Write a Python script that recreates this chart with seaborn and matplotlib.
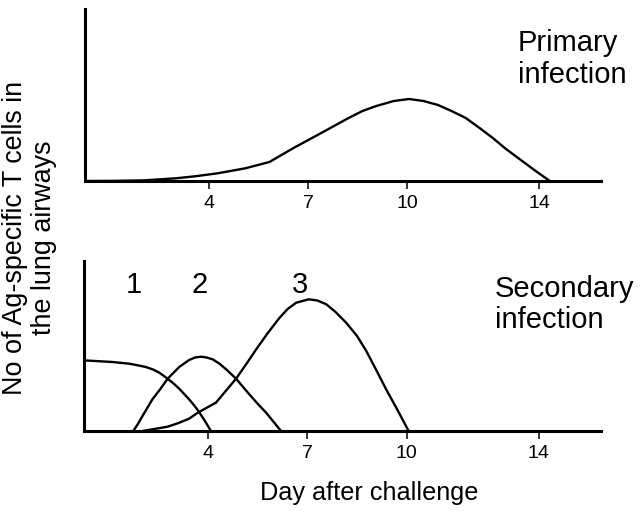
import pandas as pd
import numpy as np
import matplotlib
matplotlib.use("Agg")
import matplotlib.pyplot as plt
import seaborn as sns

"""values read off the figure (day after challenge, relative cell number)"""
tick_days = [4, 7, 10, 14]

primary_day = [0.24, 1.0, 2.0, 3.0, 3.6, 4.26, 5.1, 5.83, 6.56, 7.4, 8.23, 8.65, 9.07, 9.6, 10.06,
               10.5, 10.94, 11.35, 11.78, 12.2, 12.6, 13.0, 13.45, 13.9, 14.33]
primary_val = [0, 0.1, 0.6, 2.7, 4.8, 7.7, 12.7, 19, 33, 48, 63, 70, 75, 80, 82,
               80, 76, 70, 63, 53, 43, 32, 21, 10, 0]

sec1_day = [0.21, 1.10, 1.61, 1.85, 2.11, 2.33, 2.52, 2.77, 2.95, 3.12, 3.27, 3.42, 3.55, 3.68, 3.88, 3.98, 4.08]
sec1_val = [70.7, 69, 67.3, 65.8, 64, 61.5, 58.3, 52.3, 47.5, 42.3, 37, 31.7, 26.5, 21, 11, 5.5, 0]

sec2_day = [1.73, 1.87, 2.01, 2.31, 2.55, 2.77, 3.12, 3.42, 3.6, 3.78, 3.95, 4.13, 4.33, 4.54, 4.84, 5.24, 5.5, 5.75, 6.2]
sec2_val = [0, 7, 15, 31.7, 42, 52.3, 64, 71, 73.5, 74.3, 73.5, 71.7, 67.5, 61.7, 52.3, 36.7, 27, 18.3, 0]

sec3_day = [2.01, 2.77, 3.1, 3.42, 3.68, 4.23, 4.84, 5.15, 5.45, 5.8, 6.15, 6.4, 6.66, 7.04, 7.3,
            7.57, 7.85, 8.17, 8.5, 8.78, 9.08, 9.38, 9.74, 10.06]
sec3_val = [0, 4.3, 8, 12.3, 18.3, 28.3, 52.3, 67, 81.7, 98, 113, 122, 128.3, 131.7, 130.5,
            126.7, 119, 108.3, 95, 80, 61, 41.7, 20, 0]

curve_labels = ["1", "2", "3"]
label_day = [1.76, 3.75, 6.76]
label_val = [146, 146, 146]

sns.set_theme(style="white")
plt.rcParams["font.family"] = ["Liberation Sans", "DejaVu Sans"]
plt.rcParams["text.color"] = "black"

fig = plt.figure(figsize=(6.4, 5.21), dpi=100)
W, H = 640, 521
ax_top = fig.add_axes([85 / W, 1 - 181 / H, 516 / W, 172 / H])
ax_bot = fig.add_axes([84 / W, 1 - 431 / H, 517 / W, 170 / H])

primary = pd.DataFrame({"day": primary_day, "cells": primary_val})
sns.lineplot(data=primary, x="day", y="cells", color="black", linewidth=1.7,
             estimator=None, ax=ax_top)

secondary = pd.concat([
    pd.DataFrame({"day": d, "cells": v, "curve": c})
    for d, v, c in zip([sec1_day, sec2_day, sec3_day], [sec1_val, sec2_val, sec3_val], curve_labels)
])
for c in curve_labels:
    sns.lineplot(data=secondary[secondary.curve == c], x="day", y="cells", color="black",
                 linewidth=1.7, estimator=None, ax=ax_bot)

for c, d, v in zip(curve_labels, label_day, label_val):
    ax_bot.text(d, v, c, fontsize=21, ha="center", va="center", color="black")

for ax, top in [(ax_top, 172), (ax_bot, 170)]:
    ax.set_xlim(0.24, 15.88)
    ax.set_ylim(0, top)
    ax.set_xticks(tick_days)
    ax.set_xticklabels([str(t) for t in tick_days])
    ax.set_xlabel("")
    ax.set_ylabel("")
    ax.set_yticks([])
    for s in ["top", "right"]:
        ax.spines[s].set_visible(False)
    for s in ["left", "bottom"]:
        ax.spines[s].set_linewidth(2.2)
        ax.spines[s].set_color("black")
    ax.tick_params(axis="x", direction="out", bottom=True, length=6, width=1.1,
                   labelsize=14, pad=4, colors="black")

fig.text(518 / W, 1 - 51 / H, "Primary", fontsize=21, ha="left", va="baseline")
fig.text(518 / W, 1 - 83 / H, "infection", fontsize=21, ha="left", va="baseline")
fig.text(495 / W, 1 - 297 / H, "Secondary", fontsize=21, ha="left", va="baseline")
fig.text(495 / W, 1 - 328 / H, "infection", fontsize=21, ha="left", va="baseline")

fig.text(15 / W, 1 - 238 / H, "No of Ag-specific T cells in", fontsize=19.4,
         rotation=90, ha="center", va="center")
fig.text(44 / W, 1 - 238 / H, "the lung airways", fontsize=19.4,
         rotation=90, ha="center", va="center")
fig.text(369 / W, 1 - 493 / H, "Day after challenge", fontsize=18.2,
         ha="center", va="center")

fig.savefig("out.png", dpi=100)
